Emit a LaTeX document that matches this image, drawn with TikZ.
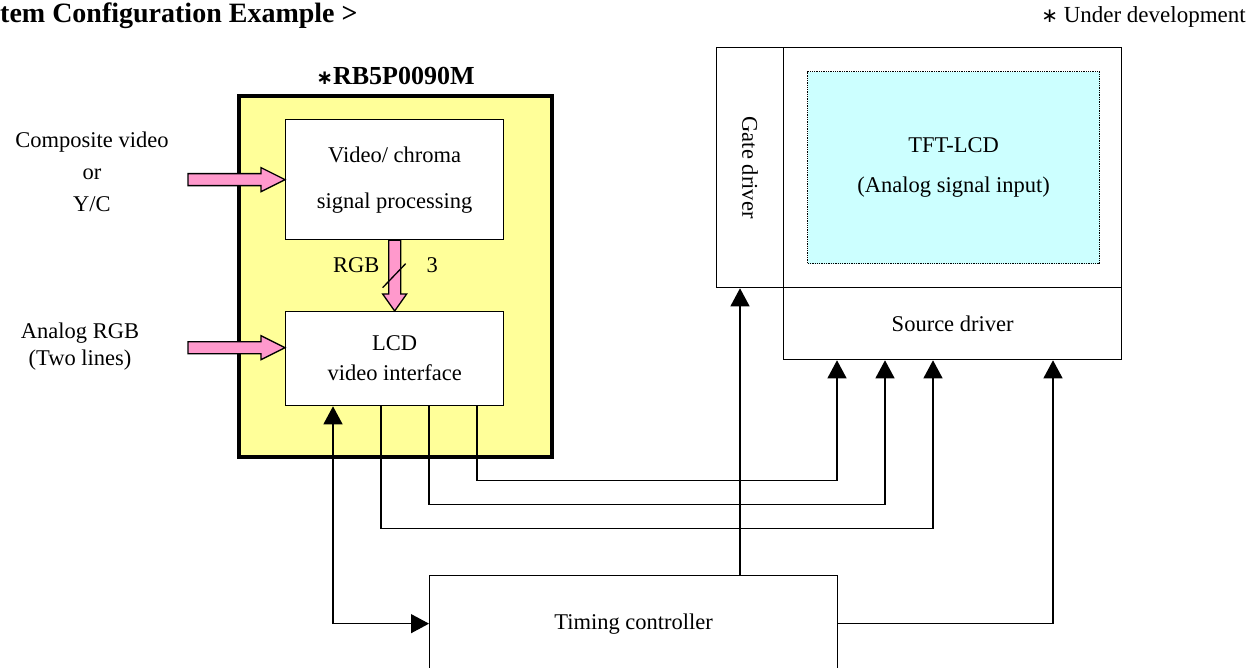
\documentclass[tikz,border=0pt]{standalone}
\usepackage{fontspec}
\setmainfont{Liberation Serif}
\newfontfamily\symfont{DejaVu Sans}
\usepackage{tikz}
\usetikzlibrary{positioning, calc}
\usetikzlibrary{arrows.meta}

\definecolor{chipyellow}{HTML}{FFFF99}
\definecolor{signalpink}{HTML}{FF99CC}
\definecolor{lcdcyan}{HTML}{CCFFFF}

% fat pink signal arrows (horizontal to the right, vertical downwards)
\newcommand{\hfat}[2]{\filldraw[fat] let \p1=#1, \p2=#2 in
    (\x1,\y2+6pt) -- (\x2-24pt,\y2+6pt) -- (\x2-24pt,\y2+12pt) -- (\x2,\y2)
    -- (\x2-24pt,\y2-12pt) -- (\x2-24pt,\y2-6pt) -- (\x1,\y2-6pt) -- cycle;}
\newcommand{\vfat}[2]{\filldraw[fat] let \p1=#1, \p2=#2 in
    (\x2-6pt,\y1) -- (\x2-6pt,\y2+17pt) -- (\x2-12pt,\y2+17pt) -- (\x2,\y2)
    -- (\x2+12pt,\y2+17pt) -- (\x2+6pt,\y2+17pt) -- (\x2+6pt,\y1) -- cycle;}
\newcommand{\devmark}{{\symfont\fontsize{20}{20}\selectfont ∗}}

\begin{document}
\begin{tikzpicture}
    [x=1pt, y=-1pt,
    font=\fontsize{22.5}{27}\selectfont,
    post/.style={->,draw,>={Triangle[length=18pt,width=19pt]},line width=1.3pt},
    ob/.style={rectangle,draw,fill=white,line width=1.3pt,inner sep=0pt,anchor=north west,align=center},
    fat/.style={draw,fill=signalpink,line width=1.3pt}]
    \clip (0,0) rectangle (1258,668);
    % headings
    \node [anchor=base west,inner sep=0pt,font=\bfseries\fontsize{28}{32}\selectfont] (title) at (0,23) {tem Configuration Example >};
    \node [anchor=base east,inner sep=0pt,font=\fontsize{23}{27}\selectfont] (note) at (1246,23) {\devmark\ Under development};
    % the chip
    \node [ob,fill=chipyellow,line width=4pt,minimum width=313,minimum height=361] (chip) at (237,94) {};
    \node [above=9pt of chip,inner sep=0pt,font=\bfseries\fontsize{26}{30}\selectfont] (chipname) {\devmark RB5P0090M};
    \node [ob,minimum width=218,minimum height=120] (video) at (285,119) {Video/ chroma\\[19pt]signal processing};
    \node [ob,minimum width=218,minimum height=94] (lcd) at (285,311) {LCD\\[3pt]video interface};
    % the panel
    \node [ob,minimum width=67,minimum height=240] (gate) at (716,47) {};
    \node [rotate=-90] (gatename) at (gate) {Gate driver};
    \node [ob,minimum width=338,minimum height=240] (panel) at (783,47) {};
    \node [ob,fill=lcdcyan,densely dotted,minimum width=292,minimum height=192] (tft) at (807,71) {TFT-LCD\\[13pt](Analog signal input)};
    \node [ob,minimum width=338,minimum height=72] (source) at (783,287) {Source driver};
    \node [ob,minimum width=408,minimum height=96] (timing) at (429,575) {Timing controller};
    % inputs
    \node [align=center] (cvin) at (92,172) {Composite video\\[5pt]or\\[5pt]Y/C};
    \node [align=center] (rgbin) at (80,347) {Analog RGB\\(Two lines)};
    \hfat{(188,179)}{(video.west)}
    \hfat{(188,347)}{($(lcd.west)+(0,-11)$)}
    \vfat{(video.south)}{(lcd.north)}
    \coordinate (bus) at ($(video.south)!0.5!(lcd.north)$);
    \draw [line width=1.3pt] ($(bus)+(-12,12)$) -- ++(23,-24);
    \node [anchor=base east] (rgb) at (383,273) {RGB};
    \node [anchor=base west] (three) at (423,273) {3};
    % connections
    \draw[post,<->] (timing.west) -| ($(lcd.south west)+(48,0)$);
    \draw[post] ($(lcd.south west)+(192,0)$) -- ++(0,74) -| ($(source.south west)+(54,0)$);
    \draw[post] ($(lcd.south west)+(144,0)$) -- ++(0,98) -| ($(source.south west)+(102,0)$);
    \draw[post] ($(lcd.south west)+(96,0)$) -- ++(0,122) -| ($(source.south west)+(150,0)$);
    \draw[post] ($(timing.north west)+(311,0)$) -- ($(gate.south west)+(24,0)$);
    \draw[post] (timing.east) -| ($(source.south west)+(270,0)$);
\end{tikzpicture}
\end{document}
